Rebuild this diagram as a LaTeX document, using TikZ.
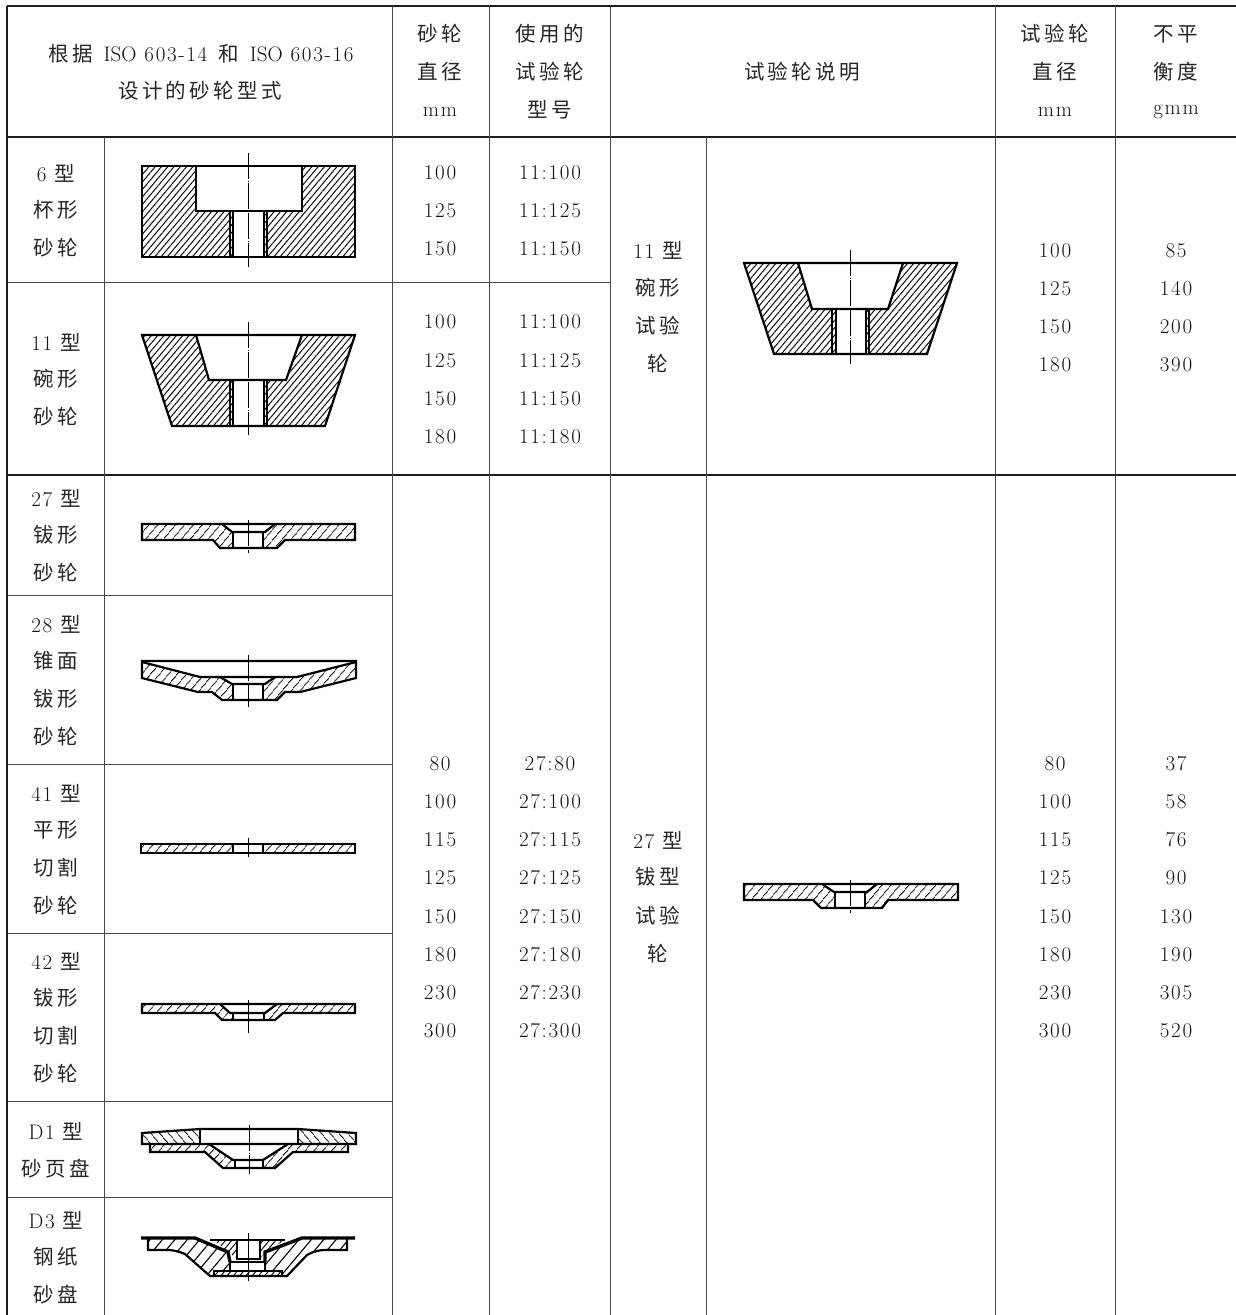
\documentclass[tikz,border=0pt]{standalone}
\usepackage{fontspec}
\setmainfont{Latin Modern Roman}
\newfontfamily\cj[LetterSpace=16]{Noto Sans CJK SC}
\newfontfamily\dg[LetterSpace=8]{Latin Modern Roman}
\usetikzlibrary{patterns.meta}
\newcommand\Z[1]{{\fontsize{20.5}{24}\selectfont\color{black!85}\cj #1}}
\newcommand\D[1]{{\dg #1}}
\tikzset{
 grid/.style={line width=0.9pt,draw=black!72},
 heavy/.style={line width=1.4pt,draw=black!88},
 outline/.style={line width=2.2pt,draw=black,line join=miter},
 thick outline/.style={line width=3.4pt,draw=black},
 centerl/.style={line width=0.9pt,draw=black,dash pattern=on 26pt off 1.5pt on 1pt off 1.5pt},
 hfine/.style={pattern={Lines[angle=50,distance=4.8pt,line width=.95pt]},pattern color=black},
 hmid/.style={pattern={Lines[angle=50,distance=6.5pt,line width=1.1pt]},pattern color=black},
 hwide/.style={pattern={Lines[angle=50,distance=9.5pt,line width=1.1pt]},pattern color=black},
 hback/.style={pattern={Lines[angle=130,distance=6.5pt,line width=1.1pt]},pattern color=black},
 cjk/.style={font=\fontsize{20.5}{24}\selectfont\cj,inner sep=0pt,text=black!85},
 num/.style={font=\fontsize{21}{24}\selectfont\dg,inner sep=0pt,text=black!92,yshift=-1pt},
}
\begin{document}
\begin{tikzpicture}[x=1pt,y=-1pt]
\useasboundingbox (0,0) rectangle (1236,1315);
\fill[white] (0,0) rectangle (1236,1315);
% grid
\draw[heavy] (7,6) -- (1236,6);
\draw[heavy] (7,137) -- (1236,137);
\draw[heavy] (7,475) -- (1236,475);
\draw[grid] (7,282) -- (610,282);
\foreach \yy in {595,764,933,1101,1197} \draw[grid] (7,\yy) -- (392,\yy);
\draw[heavy] (7,6) -- (7,1315);
\foreach \xx in {392,489,610,995,1115} \draw[grid] (\xx,6) -- (\xx,1315);
\foreach \xx in {104,706} \draw[grid] (\xx,137) -- (\xx,1315);
% header
\node[num] (h1) at (201,53) {\Z{根据}\hspace{3pt} {\rmfamily ISO} \D{603-14}\hspace{3pt} \Z{和}\hspace{3pt} {\rmfamily ISO} \D{603-16}};
\node[cjk] (h2) at (200,91) {设计的砂轮型式};
\node[cjk] (h3) at (440,34) {砂轮};
\node[cjk] (h4) at (440,72) {直径};
\node[num] (h5) at (440,111) {mm};
\node[cjk] (h6) at (550,34) {使用的};
\node[cjk] (h7) at (550,72) {试验轮};
\node[cjk] (h8) at (550,110) {型号};
\node[cjk] (h9) at (802,72) {试验轮说明};
\node[cjk] (h10) at (1055,34) {试验轮};
\node[cjk] (h11) at (1055,72) {直径};
\node[num] (h12) at (1055,111) {mm};
\node[cjk] (h13) at (1176,34) {不平};
\node[cjk] (h14) at (1176,72) {衡度};
\node[num] (h15) at (1176,111) {gmm};
% first column
\node[num] (a1) at (56,172) {\D{6} \Z{型}};
\node[cjk] (a2) at (56,210) {杯形};
\node[cjk] (a3) at (56,248) {砂轮};
\node[num] (b1) at (56,341) {\D{11} \Z{型}};
\node[cjk] (b2) at (56,379) {碗形};
\node[cjk] (b3) at (56,417) {砂轮};
\node[num] (c1) at (56,497) {\D{27} \Z{型}};
\node[cjk] (c2) at (56,535) {钹形};
\node[cjk] (c3) at (56,573) {砂轮};
\node[num] (d1) at (56,623) {\D{28} \Z{型}};
\node[cjk] (d2) at (56,661) {锥面};
\node[cjk] (d3) at (56,699) {钹形};
\node[cjk] (d4) at (56,737) {砂轮};
\node[num] (e1) at (56,792) {\D{41} \Z{型}};
\node[cjk] (e2) at (56,830) {平形};
\node[cjk] (e3) at (56,868) {切割};
\node[cjk] (e4) at (56,906) {砂轮};
\node[num] (f1) at (56,960) {\D{42} \Z{型}};
\node[cjk] (f2) at (56,998) {钹形};
\node[cjk] (f3) at (56,1036) {切割};
\node[cjk] (f4) at (56,1074) {砂轮};
\node[num] (g1) at (56,1130) {\D{D1} \Z{型}};
\node[cjk] (g2) at (56,1169) {砂页盘};
\node[num] (k1) at (56,1219) {\D{D3} \Z{型}};
\node[cjk] (k2) at (56,1257) {钢纸};
\node[cjk] (k3) at (56,1295) {砂盘};
% number columns
\foreach \t/\yy [count=\i] in {100/172,125/210,150/248}{
 \node[num] (p\i) at (440,\yy) {\t};
 \node[num] (q\i) at (550,\yy) {11:\t};}
\foreach \t/\yy [count=\i] in {100/321,125/360,150/398,180/436}{
 \node[num] (r\i) at (440,\yy) {\t};
 \node[num] (s\i) at (550,\yy) {11:\t};}
\foreach \t/\u/\yy [count=\i] in {100/85/250,125/140/288,150/200/326,180/390/364}{
 \node[num] (t\i) at (1055,\yy) {\t};
 \node[num] (u\i) at (1176,\yy) {\u};}
\foreach \t/\u/\yy [count=\i] in {80/37/763,100/58/801,115/76/839,125/90/877,150/130/916,180/190/954,230/305/992,300/520/1030}{
 \node[num] (v\i) at (440,\yy) {\t};
 \node[num] (w\i) at (550,\yy) {27:\t};
 \node[num] (x\i) at (1055,\yy) {\t};
 \node[num] (y\i) at (1176,\yy) {\u};}
\node[num] (m1) at (658,249) {\D{11} \Z{型}};
\node[cjk] (m2) at (658,288) {碗形};
\node[cjk] (m3) at (658,326) {试验};
\node[cjk] (m4) at (658,364) {轮};
\node[num] (n1) at (658,839) {\D{27} \Z{型}};
\node[cjk] (n2) at (658,877) {钹型};
\node[cjk] (n3) at (658,916) {试验};
\node[cjk] (n4) at (658,954) {轮};
% Type 6
\fill[hfine] (142,166) -- (196,166) -- (196,211) -- (233,211) -- (233,257) -- (142,257) -- cycle;
\fill[hfine] (302,166) -- (355,166) -- (355,257) -- (264,257) -- (264,211) -- (302,211) -- cycle;
\draw[outline] (142,166) rectangle (355,257);
\draw[outline] (196,166) -- (196,211) -- (302,211) -- (302,166);
\draw[line width=1.3pt] (230,211) -- (230,257) (267,211) -- (267,257);
\draw[line width=1.5pt] (233,211) -- (233,257) (264,211) -- (264,257);
\draw[centerl] (248,153) -- (248,267);
% Type 11
\fill[hfine] (142,335) -- (196,335) -- (209,380) -- (233,380) -- (233,426) -- (172,426) -- cycle;
\fill[hfine] (302,335) -- (355,335) -- (325,426) -- (264,426) -- (264,380) -- (286,380) -- cycle;
\draw[outline] (142,335) -- (355,335) -- (325,426) -- (172,426) -- cycle;
\draw[outline] (196,335) -- (209,380) -- (286,380) -- (302,335);
\draw[line width=1.3pt] (230,380) -- (230,426) (267,380) -- (267,426);
\draw[line width=1.5pt] (233,380) -- (233,426) (264,380) -- (264,426);
\draw[centerl] (248,322) -- (248,435);
% Test wheel 11
\fill[hfine] (744,263) -- (798,263) -- (812,309) -- (836,309) -- (836,354) -- (774,354) -- cycle;
\fill[hfine] (903,263) -- (957,263) -- (927,354) -- (866,354) -- (866,309) -- (888,309) -- cycle;
\draw[outline] (744,263) -- (957,263) -- (927,354) -- (774,354) -- cycle;
\draw[outline] (798,263) -- (812,309) -- (888,309) -- (903,263);
\draw[line width=1.3pt] (832,309) -- (832,354) (869,309) -- (869,354);
\draw[line width=1.5pt] (836,309) -- (836,354) (866,309) -- (866,354);
\draw[centerl] (850,250) -- (850,364);
% Type 27
\fill[hmid] (142,524) -- (222,524) -- (232,532) -- (233,532) -- (233,548) -- (220,548) -- (213,540) -- (142,540) -- cycle;
\fill[hmid] (275,524) -- (355,524) -- (355,540) -- (285,540) -- (277,548) -- (263,548) -- (263,532) -- cycle;
\draw[outline] (142,524) -- (355,524) -- (355,540) -- (285,540) -- (277,548) -- (220,548) -- (213,540) -- (142,540) -- cycle;
\draw[outline] (222,524) -- (232,532) -- (265,532) -- (275,524);
\draw[outline] (233,532) -- (233,548) (263,532) -- (263,548);
\draw[centerl] (248,520) -- (248,553);
% Type 28
\fill[hmid] (142,662) -- (200,677) -- (220,677) -- (232,684) -- (233,684) -- (233,700) -- (222,700) -- (212,692) -- (198,692) -- (142,678) -- cycle;
\fill[hmid] (356,662) -- (297,677) -- (275,677) -- (263,684) -- (263,700) -- (277,700) -- (285,692) -- (300,692) -- (356,678) -- cycle;
\draw[outline] (142,661) -- (356,661) -- (356,678) -- (300,692) -- (285,692) -- (277,700) -- (222,700) -- (212,692) -- (198,692) -- (142,678) -- cycle;
\draw[outline] (142,662) -- (200,677) -- (297,677) -- (356,662);
\draw[outline] (220,677) -- (232,684) -- (265,684) -- (275,677);
\draw[outline] (233,684) -- (233,700) (263,684) -- (263,700);
\draw[centerl] (248,655) -- (248,707);
% Type 41
\fill[hmid] (141,844) rectangle (233,853);
\fill[hmid] (263,844) rectangle (355,853);
\draw[outline] (141,844) rectangle (355,853);
\draw[outline] (233,844) -- (233,853) (263,844) -- (263,853);
\draw[line width=1pt] (248,838) -- (248,857);
% Type 42
\fill[hmid] (142,1004) -- (220,1004) -- (230,1013) -- (233,1013) -- (233,1020) -- (222,1020) -- (215,1013) -- (142,1013) -- cycle;
\fill[hmid] (277,1004) -- (355,1004) -- (355,1013) -- (283,1013) -- (275,1020) -- (264,1020) -- (264,1013) -- (265,1013) -- cycle;
\draw[outline] (142,1004) -- (355,1004) -- (355,1013) -- (283,1013) -- (275,1020) -- (222,1020) -- (215,1013) -- (142,1013) -- cycle;
\draw[outline] (220,1004) -- (230,1013) -- (265,1013) -- (277,1004);
\draw[line width=1.2pt] (233,1013) -- (233,1020) (264,1013) -- (264,1020);
\draw[line width=1pt] (248,1000) -- (248,1033);
% D1
\fill[hback] (142,1133) -- (200,1129) -- (200,1144) -- (142,1144) -- cycle;
\fill[hback] (298,1129) -- (356,1133) -- (356,1144) -- (298,1144) -- cycle;
\fill[hmid] (150,1144) -- (209,1144) -- (233,1160) -- (235,1160) -- (235,1168) -- (223,1168) -- (205,1152) -- (150,1152) -- cycle;
\fill[hmid] (288,1144) -- (348,1144) -- (348,1152) -- (293,1152) -- (275,1168) -- (263,1168) -- (263,1160) -- cycle;
\draw[outline] (142,1133) -- (200,1129) -- (298,1129) -- (356,1133) -- (356,1144) -- (142,1144) -- cycle;
\draw[outline] (200,1129) -- (200,1144) (298,1129) -- (298,1144);
\draw[outline] (150,1144) -- (150,1152) -- (205,1152) -- (223,1168) -- (275,1168) -- (293,1152) -- (348,1152) -- (348,1144);
\draw[outline] (209,1144) -- (233,1160) -- (263,1160) -- (288,1144);
\draw[line width=1.2pt] (235,1160) -- (235,1168) (263,1160) -- (263,1168);
\draw[centerl] (249,1125) -- (249,1174);
% D3
\fill[hwide] (148,1238) -- (195,1238) -- (228,1252) -- (230,1262) -- (230,1271) -- (214,1271) -- (214,1276) -- (210,1276) -- (185,1254) .. controls (178,1251) and (172,1250) .. (168,1250) -- (148,1250) -- cycle;
\fill[hwide] (347,1238) -- (302,1238) -- (265,1252) -- (265,1271) -- (282,1271) -- (282,1276) -- (287,1276) -- (307,1255) .. controls (314,1251) and (320,1250) .. (325,1250) -- (347,1250) -- cycle;
\fill[hfine] (214,1240) -- (237,1240) -- (237,1259) -- (228,1252) -- cycle;
\fill[hfine] (260,1240) -- (285,1240) -- (265,1252) -- (260,1259) -- cycle;
\fill[hfine] (214,1271) rectangle (282,1276);
\draw[thick outline] (141,1238) -- (195,1238) -- (228,1252) -- (230,1262);
\draw[thick outline] (355,1238) -- (302,1238) -- (265,1252) -- (265,1262);
\draw[outline] (148,1238) -- (148,1250) -- (168,1250) .. controls (172,1250) and (178,1251) .. (185,1254) -- (210,1276) -- (287,1276) -- (307,1255) .. controls (314,1251) and (320,1250) .. (325,1250) -- (347,1250) -- (347,1238);
\draw[outline] (210,1240) -- (285,1240);
\draw[outline] (237,1240) -- (237,1259) -- (260,1259) -- (260,1240);
\draw[outline] (230,1262) -- (265,1262);
\draw[outline] (230,1262) -- (230,1271) (265,1262) -- (265,1271);
\draw[outline] (214,1276) -- (214,1271) -- (282,1271) -- (282,1276);
\draw[line width=.8pt] (248,1233) -- (248,1281);
% Test wheel 27
\fill[hmid] (744,884) -- (822,884) -- (834,892) -- (835,892) -- (835,908) -- (821,908) -- (813,900) -- (744,900) -- cycle;
\fill[hmid] (877,884) -- (958,884) -- (958,900) -- (888,900) -- (882,908) -- (865,908) -- (865,892) -- cycle;
\draw[outline] (744,884) -- (958,884) -- (958,900) -- (888,900) -- (882,908) -- (821,908) -- (813,900) -- (744,900) -- cycle;
\draw[outline] (822,884) -- (834,892) -- (867,892) -- (877,884);
\draw[outline] (835,892) -- (835,908) (865,892) -- (865,908);
\draw[centerl] (850,880) -- (850,913);
\end{tikzpicture}
\end{document}
